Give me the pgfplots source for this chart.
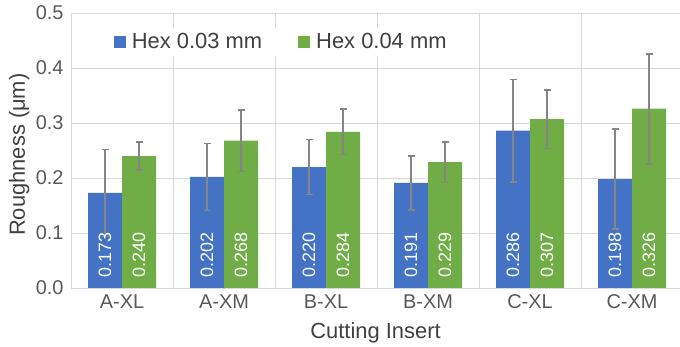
\documentclass[border=0pt]{standalone}
\usepackage{pgfplots}
\pgfplotsset{compat=1.18}
\usepackage{pgfplotstable}
\usepackage{fontspec}
\setmainfont{Liberation Sans}
\definecolor{cblue}{HTML}{4472C4}
\definecolor{cgreen}{HTML}{70AD47}
\definecolor{gridc}{HTML}{D9D9D9}
\definecolor{errc}{HTML}{858585}
\definecolor{tickc}{HTML}{595959}
\definecolor{labc}{HTML}{404040}
\pgfplotstableread{
x a aerr b berr
0 0.173 0.079 0.240 0.025
1 0.202 0.061 0.268 0.056
2 0.220 0.050 0.284 0.041
3 0.191 0.049 0.229 0.037
4 0.286 0.093 0.307 0.053
5 0.198 0.091 0.326 0.100
}\data
\begin{document}
\begin{tikzpicture}
\begin{axis}[
  at={(71bp,59bp)}, anchor=south west,
  scale only axis, width=609bp, height=275bp,
  xmin=-0.5, xmax=5.47, ymin=0, ymax=0.5,
  /pgf/number format/assume math mode=true,
  xtick={0,1,2,3,4,5},
  xticklabels={A-XL,A-XM,B-XL,B-XM,C-XL,C-XM},
  minor xtick={0.5,1.5,2.5,3.5,4.5},
  ytick={0,0.1,0.2,0.3,0.4,0.5},
  yticklabel style={/pgf/number format/fixed, /pgf/number format/fixed zerofill, /pgf/number format/precision=1, xshift=-4bp},
  major tick length=0pt, minor tick length=0pt,
  axis x line*=bottom, axis y line*=left,
  axis line style={-, draw=gridc, line width=0.8bp},
  ymajorgrids, xminorgrids,
  grid style={draw=gridc, line width=0.8bp},
  minor grid style={draw=gridc, line width=0.8bp},
  tick label style={tickc, font=\fontsize{20}{22}\selectfont},
  xticklabel style={yshift=-3bp},
  xlabel={Cutting Insert},
  xlabel style={labc, font=\fontsize{22}{24}\selectfont, at={(axis description cs:0.5,-0.162)}, anchor=center},
  ylabel={Roughness (μm)},
  ylabel style={labc, font=\fontsize{22}{24}\selectfont, at={(axis description cs:-0.085,0.485)}, anchor=center},
  ybar, bar width=34bp,
  legend columns=2,
  legend image code/.code={\fill[#1] (0bp,-6bp) rectangle (12bp,6bp);},
  legend style={at={(0.057,0.948)}, anchor=north west, draw=none, fill=white,
    text=labc, font=\fontsize{22}{24}\selectfont, inner xsep=8bp, inner ysep=4bp,
    /tikz/every odd column/.append style={column sep=4bp},
    /tikz/every even column/.append style={column sep=34bp}},
  nodes near coords={\pgfmathprintnumber[fixed,fixed zerofill,precision=3]{\pgfplotspointmeta}},
  visualization depends on={y \as \rawy},
  every node near coord/.append style={shift={(axis direction cs:0,-\rawy)}, rotate=90, anchor=west, text=white, font=\fontsize{18}{18}\selectfont, inner xsep=10bp},
]
\addplot[fill=cblue, draw=none, bar shift=-17bp,
  error bars/.cd, y dir=both, y explicit,
  error bar style={errc, line width=1.6bp},
  error mark options={errc, rotate=90, mark size=3.5bp, line width=1.6bp}]
  table[x=x, y=a, y error=aerr]{\data};
\addlegendentry{Hex 0.03 mm}
\addplot[fill=cgreen, draw=none, bar shift=17bp,
  error bars/.cd, y dir=both, y explicit,
  error bar style={errc, line width=1.6bp},
  error mark options={errc, rotate=90, mark size=3.5bp, line width=1.6bp}]
  table[x=x, y=b, y error=berr]{\data};
\addlegendentry{Hex 0.04 mm}
\end{axis}
\pgfresetboundingbox
\path[use as bounding box] (0,0) rectangle (680bp,347bp);
\end{tikzpicture}
\end{document}
